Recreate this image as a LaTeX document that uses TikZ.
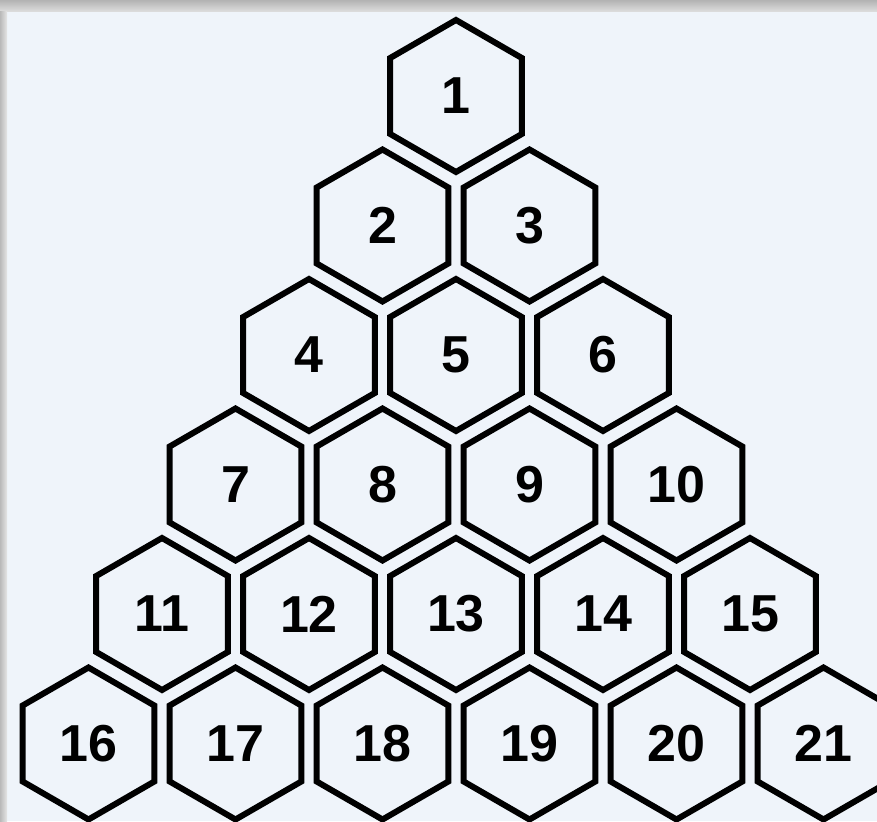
\documentclass[tikz,border=0pt]{standalone}
\usepackage{fontspec}
\setmainfont{Liberation Sans}
\usetikzlibrary{shapes.geometric}
\definecolor{paper}{HTML}{EFF4FA}
\begin{document}
\begin{tikzpicture}
[
    x=1pt, y=-1pt,
    hexcell/.style={draw=black, line width=6pt, regular polygon,
        regular polygon sides=6, shape border rotate=90,
        minimum size=152pt, inner sep=0pt,
        font=\fontsize{52}{56}\selectfont\bfseries}
]
    \clip (0,0) rectangle (877,821);
    \fill[paper] (0,0) rectangle (877,821);
    \shade[top color=gray!60, bottom color=gray!25] (0,0) rectangle (877,12);
    \shade[left color=gray!55, right color=gray!20] (0,12) rectangle (7,821);
    \foreach \r in {0,...,5} {
        \foreach \k in {0,...,\r} {
            \pgfmathtruncatemacro{\n}{\r*(\r+1)/2+\k+1}
            \node[hexcell] (h\n) at ({456+(\k-\r/2)*147}, {96+\r*129.5}) {\n};
        }
    }
\end{tikzpicture}
\end{document}
